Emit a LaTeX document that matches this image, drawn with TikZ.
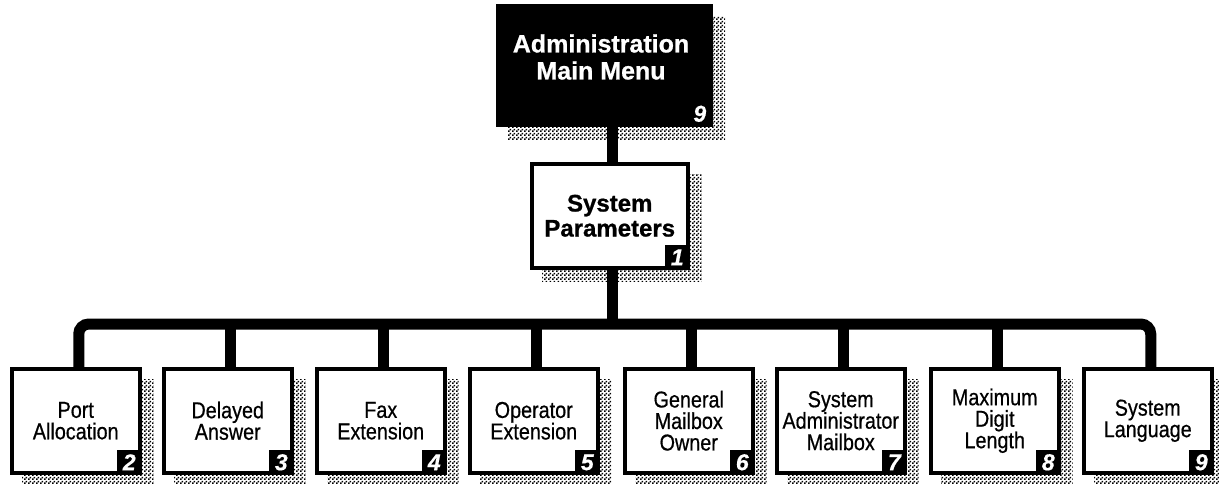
\documentclass[tikz,border=0pt]{standalone}
\usepackage{fontspec}
\setmainfont{Liberation Sans}
\newfontfamily\condfont[FakeStretch=0.86,FakeBold=0.6]{Liberation Sans}
\newfontfamily\headfont[FakeBold=0.8]{Liberation Sans Bold}
\newfontfamily\digitfont[FakeBold=0.6]{Liberation Sans Bold Italic}
\usetikzlibrary{patterns.meta,backgrounds}

% fine checker used for the drop shadows
\tikzdeclarepattern{
  name=shadowdots,
  type=uncolored,
  bounding box={(0pt,0pt) and (4pt,4pt)},
  tile size={(4pt,4pt)},
  code={
    \fill (0pt,0pt) rectangle (2pt,2pt);
    \fill (2pt,2pt) rectangle (4pt,4pt);
  }
}

\begin{document}
\begin{tikzpicture}[x=1pt,y=-1pt,
  menubox/.style={draw=black, line width=3.5pt, fill=white, anchor=north west,
    inner sep=0pt, minimum width=128pt, minimum height=104pt, align=center,
    font=\condfont\fontsize{23}{21.5}\selectfont},
  headbox/.style={menubox, font=\headfont\fontsize{24}{25}\selectfont},
  badge/.style={fill=black, text=white, anchor=south east, inner sep=0pt,
    minimum width=24pt, minimum height=24pt,
    font=\digitfont\fontsize{23}{23}\selectfont},
  conn/.style={draw=black, line width=11pt},
]
\useasboundingbox (0,0) rectangle (1219,483);

% main menu
\node[draw=black, fill=black, line width=2pt, anchor=north west, inner sep=0pt,
      minimum width=215pt, minimum height=121pt] (top) at (496,4) {};
\node[text=white, align=center, font=\headfont\fontsize{25}{27}\selectfont]
      (toptitle) at (601,57) {Administration\\Main Menu};
\node[badge] (n0) at ([shift={(-1,-1)}]top.south east) {9};

% system parameters
\node[headbox, minimum width=156pt] (sys) at (530,162) {System\\Parameters};
\node[badge] (n1) at (sys.south east) {1};

% submenus
\node[menubox] (b1) at (10,367)   {Port\\Allocation};
\node[menubox] (b2) at (162,367)  {Delayed\\Answer};
\node[menubox] (b3) at (315,367)  {Fax\\Extension};
\node[menubox] (b4) at (468,367)  {Operator\\Extension};
\node[menubox] (b5) at (623,367)  {General\\Mailbox\\Owner};
\node[menubox] (b6) at (775,367)  {System\\Administrator\\Mailbox};
\node[menubox] (b7) at (929,367)  {Maximum\\Digit\\Length};
\node[menubox] (b8) at (1082,367) {System\\Language};

\foreach \i/\d in {1/2,2/3,3/4,4/5,5/6,6/7,7/8,8/9}
  \node[badge] (n\d) at (b\i.south east) {\d};

% drop shadows
\begin{scope}[on background layer]
  \fill[white] (0,0) rectangle (1219,483);
  \foreach \n in {top,sys,b1,b2,b3,b4,b5,b6,b7,b8}
    \fill[pattern=shadowdots, pattern color=black]
      ([shift={(12,12)}]\n.north west) rectangle ([shift={(12,12)}]\n.south east);
\end{scope}

% connectors
\coordinate (j) at (612,324);
\draw[conn] (top.south -| j) -- (sys.north -| j);
\draw[conn] (sys.south -| j) -- (j);
\draw[conn, rounded corners=10pt]
  ([xshift=3]b1.north) |- (j) -| ([xshift=3]b8.north);
\foreach \i in {2,...,7}
  \draw[conn] ([xshift=3]b\i.north) -- ([xshift=3]b\i.north |- j);
\end{tikzpicture}
\end{document}
